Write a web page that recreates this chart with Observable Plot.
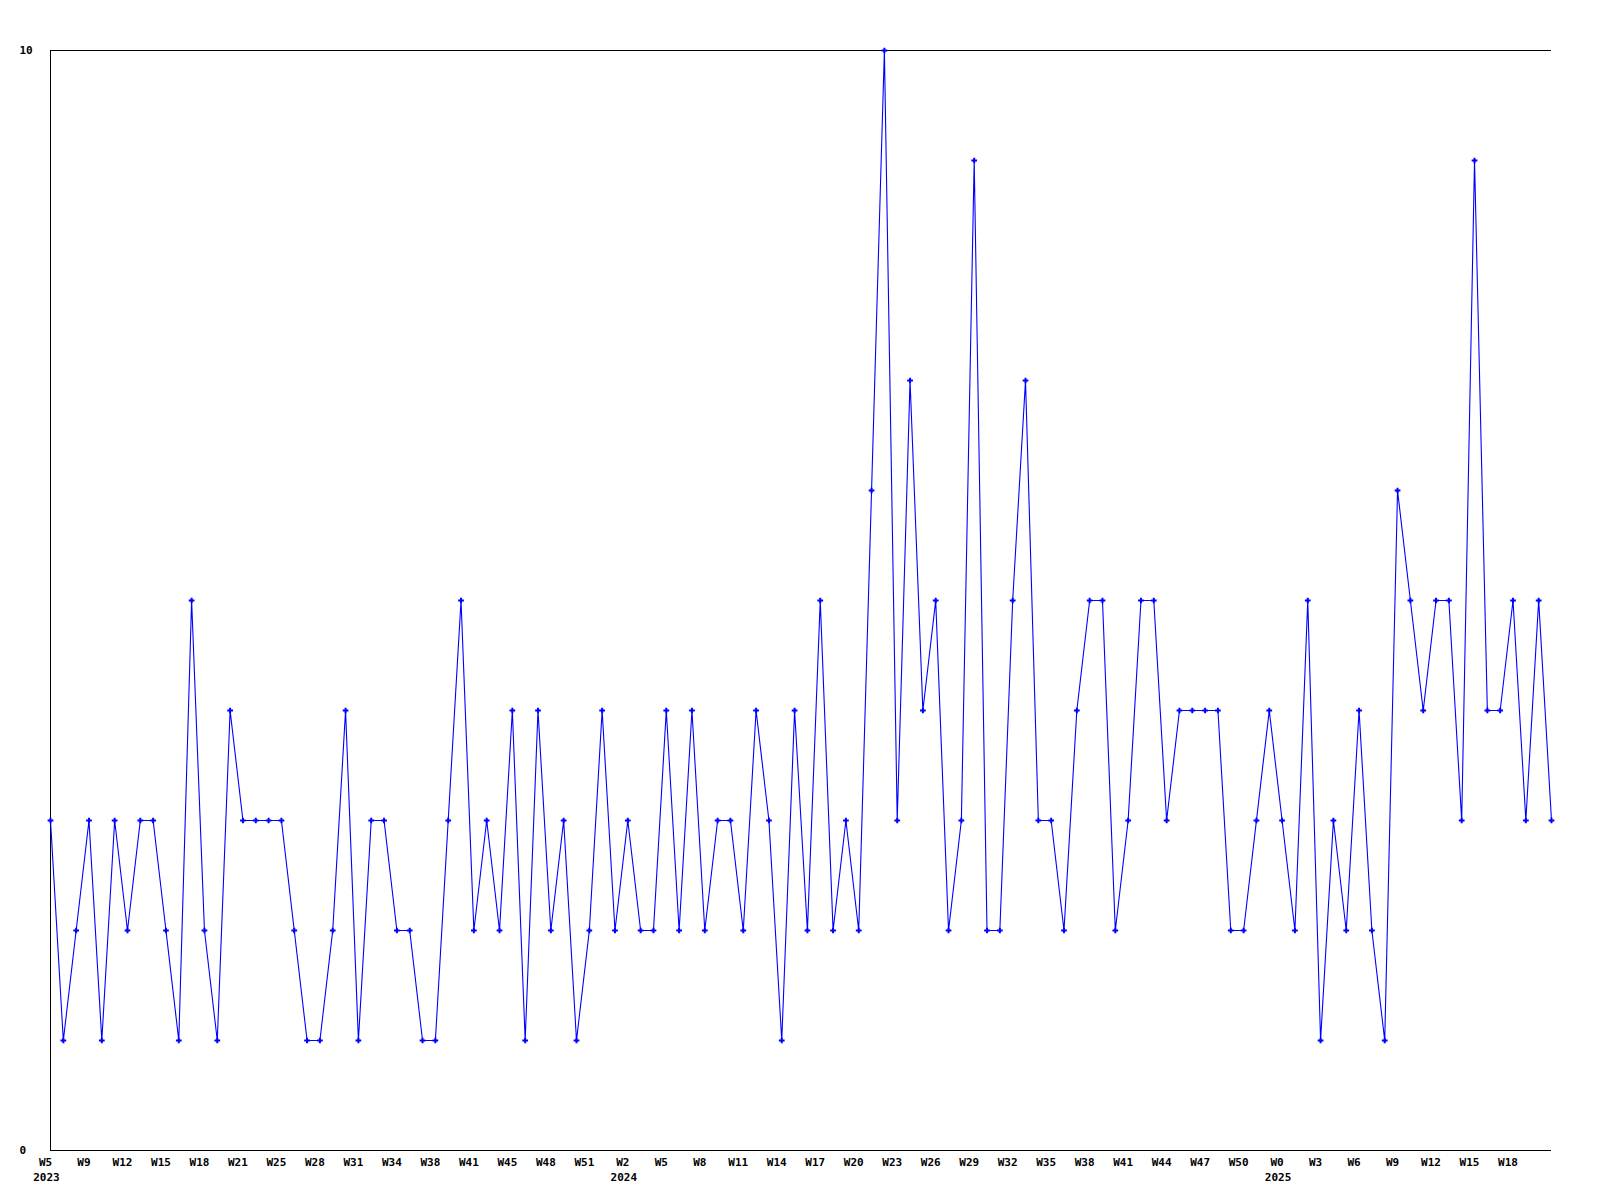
<!DOCTYPE html>
<html>
<head>
<meta charset="utf-8">
<script src="https://cdn.jsdelivr.net/npm/d3@7"></script>
<script src="https://cdn.jsdelivr.net/npm/@observablehq/plot@0.6"></script>
<style>
  html, body { margin: 0; padding: 0; background: #ffffff; }
  #chart svg { display: block; }
</style>
</head>
<body>
<div id="chart"></div>
<script>
// Weekly values (one point per week, oldest first)
const values = [
  3,1,2,3,1,3,2,3,3,2,
  1,5,2,1,4,3,3,3,3,2,
  1,1,2,4,1,3,3,2,2,1,
  1,3,5,2,3,2,4,1,4,2,
  3,1,2,4,2,3,2,2,4,2,
  4,2,3,3,2,4,3,1,4,2,
  5,2,3,2,6,10,3,7,4,5,
  2,3,9,2,2,5,7,3,3,2,
  4,5,5,2,3,5,5,3,4,4,
  4,4,2,2,3,4,3,2,5,1,
  3,2,4,2,1,6,5,4,5,5,
  3,9,4,4,5,3,5,3
];

// Week tick labels (one every 3 points)
const weekLabels = [
  "W5","W9","W12","W15","W18","W21","W25","W28","W31","W34","W38","W41","W45","W48","W51",
  "W2","W5","W8","W11","W14","W17","W20","W23","W26","W29","W32","W35","W38","W41","W44","W47","W50",
  "W0","W3","W6","W9","W12","W15","W18"
];
const tickStep = 3;

// Year labels and the week label each sits under
const yearLabels = ["2023", "2024", "2025"];
const yearLabelSlots = [0, 15, 32];

const yTicks = [0, 10];

const data = values.map((v, i) => ({i, v}));
const weekTicks = weekLabels.map((_, k) => k * tickStep);
const weekByTick = new Map(weekTicks.map((t, k) => [t, weekLabels[k]]));
const yearTicks = yearLabelSlots.map(s => s * tickStep);
const yearByTick = new Map(yearTicks.map((t, k) => [t, yearLabels[k]]));

const font = "'DejaVu Sans Mono', monospace";

const chart = Plot.plot({
  width: 1600,
  height: 1200,
  marginLeft: 50,
  marginRight: 49,
  marginTop: 50,
  marginBottom: 50,
  style: {fontFamily: font, fontSize: "11px", fontWeight: "bold", background: "#ffffff", color: "#000000"},
  x: {type: "linear", domain: [0, values.length - 1]},
  y: {domain: [0, 10]},
  marks: [
    Plot.axisY(yTicks, {tickSize: 0, tickPadding: 31, textAnchor: "start", tickFormat: d => String(d), label: null, fill: "#000", fontWeight: "bold"}),
    Plot.axisX(weekTicks, {tickSize: 0, tickPadding: 8, dx: -5, tickFormat: d => weekByTick.get(d), label: null, fill: "#000", fontWeight: "bold"}),
    Plot.axisX(yearTicks, {tickSize: 0, tickPadding: 23, dx: -4, tickFormat: d => yearByTick.get(d), label: null, fill: "#000", fontWeight: "bold"}),
    Plot.ruleX([0], {stroke: "#000", strokeWidth: 1}),
    Plot.ruleY([0], {stroke: "#000", strokeWidth: 1}),
    Plot.ruleY([10], {stroke: "#000", strokeWidth: 1}),
    Plot.line(data, {x: "i", y: "v", stroke: "#0000ff", strokeWidth: 1.1}),
    Plot.dot(data, {x: "i", y: "v", symbol: "plus", r: 2, stroke: "#0000ff", strokeWidth: 2})
  ]
});
document.getElementById("chart").appendChild(chart);
</script>
</body>
</html>
